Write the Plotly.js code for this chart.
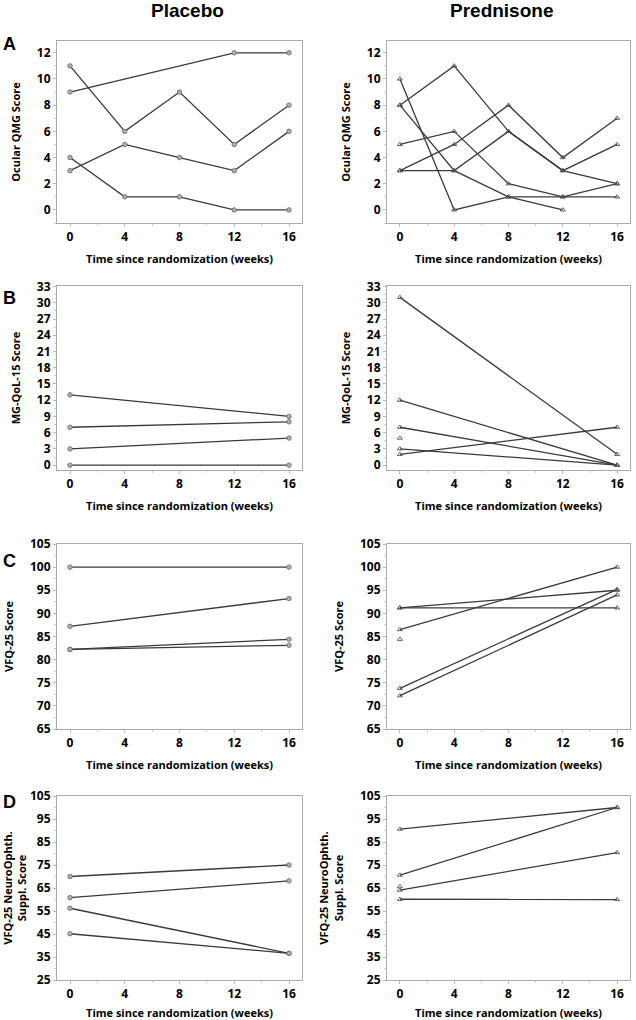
<!DOCTYPE html>
<html>
<head>
<meta charset="utf-8">
<script src="https://cdn.plot.ly/plotly-3.0.1.min.js"></script>
<style>
  body { margin: 0; background: #fff; }
  #plotArea { width: 636px; height: 1020px; }
</style>
</head>
<body>
<div id="plotArea"></div>
<script>
// time points
var weeksQMG = [0, 4, 8, 12, 16];
var weeksPair = [0, 16];

// A: ocular QMG score, one row per patient
var placeboQMG = [
  [9, null, null, 12, 12],
  [11, 6, 9, 5, 8],
  [3, 5, 4, 3, 6],
  [4, 1, 1, 0, 0]
];
var prednisoneQMG = [
  [10, 0, 1, 1, 1],
  [8, 11, 6, 3, 2],
  [8, 3, 1, 0, null],
  [5, 6, 2, 1, 2],
  [3, 5, 8, 4, 7],
  [3, 3, 6, 3, 5]
];

// B: MG-QoL-15
var placeboQoL = [[13, 9], [7, 8], [3, 5], [0, 0]];
var prednisoneQoL = [[31, 2], [12, 0], [7, 0], [5, null], [3, 0], [2, 7]];

// C: VFQ-25
var placeboVFQ = [[100, 100], [87.2, 93.2], [82.2, 84.4], [82.2, 83.1]];
var prednisoneVFQ = [[91.2, 95], [91.2, 91.2], [86.5, 100], [84.4, null], [73.8, 95.2], [72.2, 94]];

// D: VFQ-25 neuro-ophthalmic supplement
var placeboNeuro = [[70, 75], [60.8, 68.1], [56.2, 36.6], [45.1, 36.6]];
var prednisoneNeuro = [[90.6, 100], [70.6, 100], [65.6, null], [64.1, 80.4], [60.1, 60]];

var yTitles = ["Ocular QMG Score", "MG-QoL-15 Score", "VFQ-25 Score", "VFQ-25 NeuroOphth.<br>Suppl. Score"];
var panelLetters = ["A", "B", "C", "D"];

var lineColor = "#3a3a3a";

function addSeries(data, weeks, rows, axisNum, placebo) {
  rows.forEach(function(row) {
    data.push({
      x: weeks,
      y: row,
      xaxis: "x" + (axisNum === 1 ? "" : axisNum),
      yaxis: "y" + (axisNum === 1 ? "" : axisNum),
      type: "scatter",
      mode: "lines+markers",
      connectgaps: true,
      line: {color: lineColor, width: 1.3},
      marker: placebo
        ? {symbol: "circle", size: 4.5, color: "#b0b0b0", line: {color: "#666", width: 0.8}}
        : {symbol: "triangle-up-open", size: 4.5, color: "#555", line: {width: 0.9}},
      showlegend: false,
      hoverinfo: "x+y"
    });
  });
}

var data = [];
addSeries(data, weeksQMG, placeboQMG, 1, true);
addSeries(data, weeksQMG, prednisoneQMG, 2, false);
addSeries(data, weeksPair, placeboQoL, 3, true);
addSeries(data, weeksPair, prednisoneQoL, 4, false);
addSeries(data, weeksPair, placeboVFQ, 5, true);
addSeries(data, weeksPair, prednisoneVFQ, 6, false);
addSeries(data, weeksPair, placeboNeuro, 7, true);
addSeries(data, weeksPair, prednisoneNeuro, 8, false);

var W = 636, H = 1020;
var colX = [[57, 302], [387, 630]];
var rowY = [[41, 223], [286, 470], [544, 729], [796, 980]];
var yRanges = [[-1, 12.9], [-0.9, 33.1], [65, 105], [25, 105]];
var yTicks = [[0, 2], [0, 3], [65, 5], [25, 10]];

var tickFont = {family: "Open Sans, sans-serif", size: 12, color: "#000", weight: "bold"};
var titleFont = {family: "Open Sans, sans-serif", size: 11, color: "#000", weight: "bold"};

var layout = {
  width: W,
  height: H,
  margin: {l: 0, r: 0, t: 0, b: 0},
  paper_bgcolor: "#fff",
  plot_bgcolor: "#fff",
  annotations: [],
  showlegend: false
};

for (var r = 0; r < 4; r++) {
  for (var c = 0; c < 2; c++) {
    var n = r * 2 + c + 1;
    var suffix = n === 1 ? "" : n;
    layout["xaxis" + suffix] = {
      domain: [colX[c][0] / W, colX[c][1] / W],
      anchor: "y" + suffix,
      range: [-0.95, 16.95],
      tickmode: "linear", tick0: 0, dtick: 4,
      ticks: "outside", ticklen: 3, tickcolor: "#bbb",
      minor: {dtick: 2, ticks: "outside", ticklen: 2, tickcolor: "#ccc"},
      showgrid: false, zeroline: false,
      showline: true, linecolor: "#aaa", linewidth: 1, mirror: true,
      tickfont: tickFont,
      title: {text: "Time since randomization (weeks)", font: titleFont, standoff: 10}
    };
    layout["yaxis" + suffix] = {
      domain: [1 - rowY[r][1] / H, 1 - rowY[r][0] / H],
      anchor: "x" + suffix,
      range: yRanges[r],
      tickmode: "linear", tick0: yTicks[r][0], dtick: yTicks[r][1],
      ticks: "outside", ticklen: 3, tickcolor: "#bbb",
      minor: {dtick: yTicks[r][1] / 2, ticks: "outside", ticklen: 2, tickcolor: "#ccc"},
      showgrid: false, zeroline: false,
      showline: true, linecolor: "#aaa", linewidth: 1, mirror: true,
      tickfont: tickFont,
      title: {text: yTitles[r], font: titleFont, standoff: 14}
    };
  }
  layout.annotations.push({
    text: panelLetters[r], xref: "paper", yref: "paper",
    x: 9 / W, y: 1 - [44, 298, 561, 802][r] / H,
    xanchor: "center", yanchor: "middle", showarrow: false,
    font: {family: "Liberation Sans, Arial, sans-serif", size: 18, color: "#000", weight: "bold"}
  });
}

layout.annotations.push({
  text: "Placebo", xref: "paper", yref: "paper", x: 187 / W, y: 1 - 11 / H,
  xanchor: "center", yanchor: "middle", showarrow: false,
  font: {family: "Liberation Sans, Arial, sans-serif", size: 19, color: "#000", weight: "bold"}
});
layout.annotations.push({
  text: "Prednisone", xref: "paper", yref: "paper", x: 501 / W, y: 1 - 11 / H,
  xanchor: "center", yanchor: "middle", showarrow: false,
  font: {family: "Liberation Sans, Arial, sans-serif", size: 19, color: "#000", weight: "bold"}
});

Plotly.newPlot("plotArea", data, layout, {displayModeBar: false, staticPlot: true});
</script>
</body>
</html>
